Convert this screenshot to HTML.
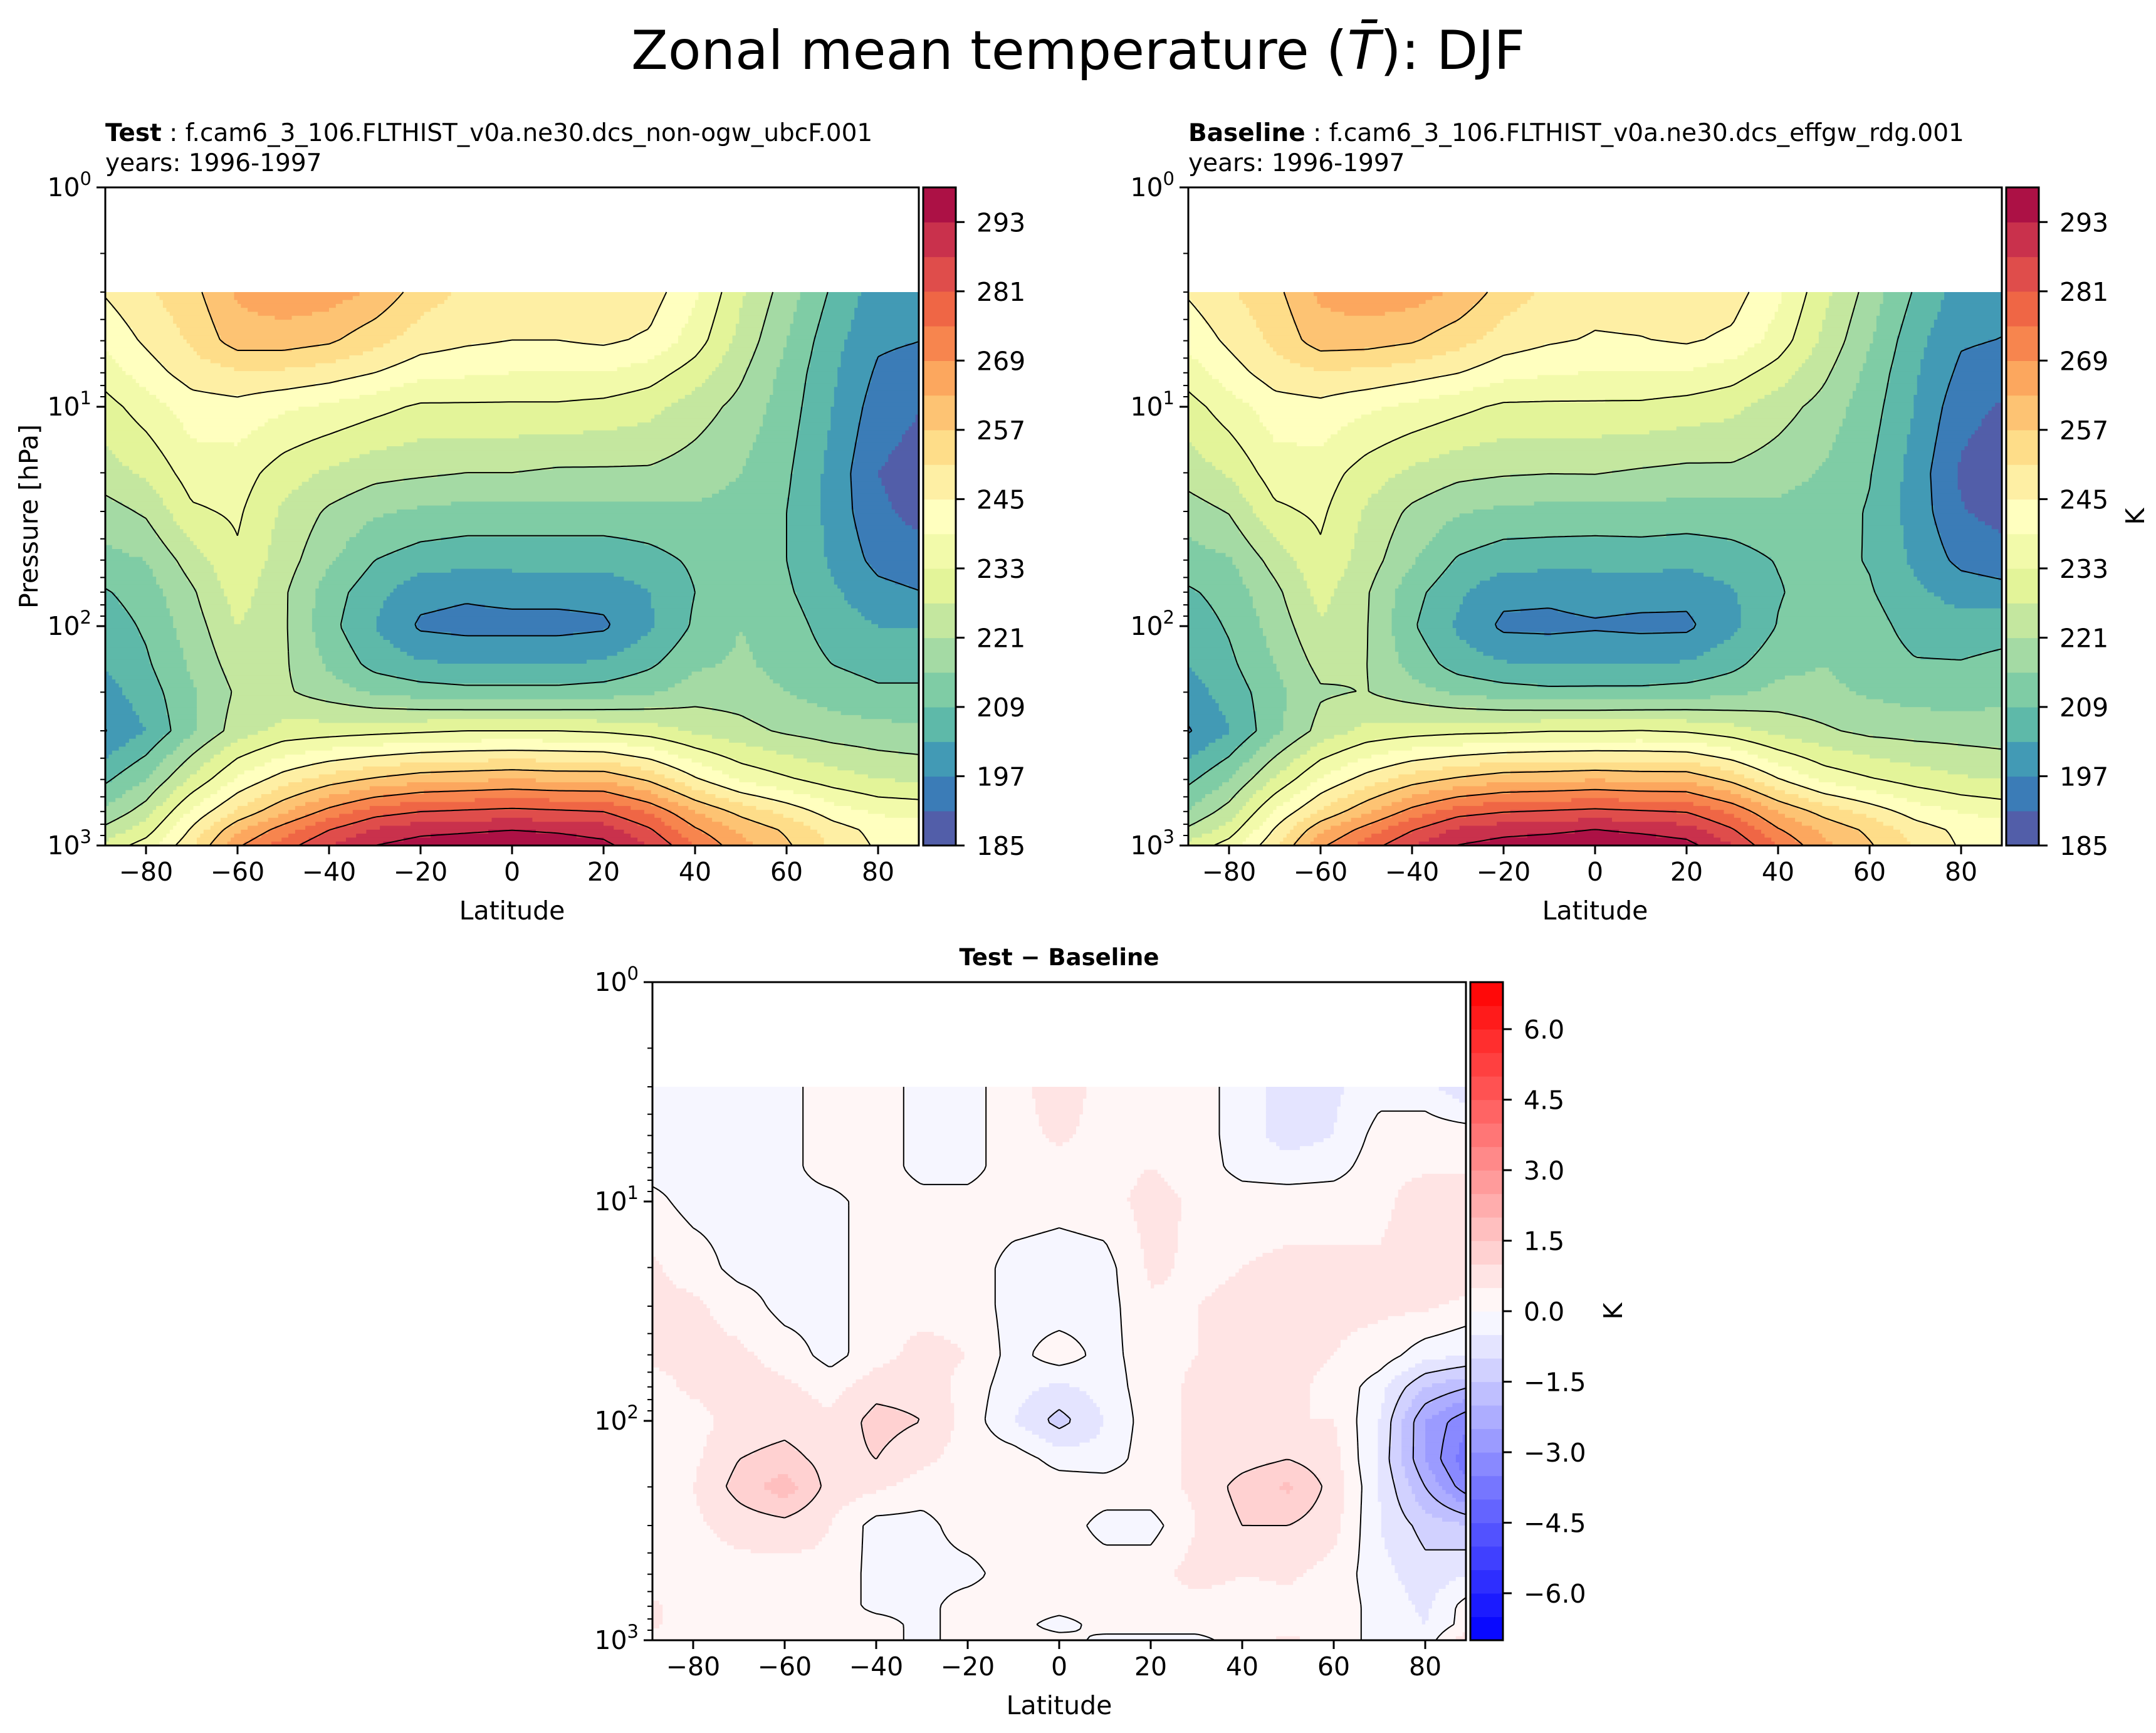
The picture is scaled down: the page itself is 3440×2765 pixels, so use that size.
<!DOCTYPE html>
<html><head><meta charset="utf-8">
<style>
html,body{margin:0;padding:0;background:#fff;}
svg{display:block;font-family:"DejaVu Sans","Liberation Sans",sans-serif;}
</style></head>
<body>
<svg id="fig" width="3440" height="2765" viewBox="0 0 3440 2765" xmlns="http://www.w3.org/2000/svg">
<text x="1720" y="110" font-size="86" text-anchor="middle">Zonal mean temperature (<tspan font-style="italic">T&#772;</tspan>): DJF</text>
<text x="168" y="225" font-size="39"><tspan font-weight="bold">Test</tspan> : f.cam6_3_106.FLTHIST_v0a.ne30.dcs_non-ogw_ubcF.001</text>
<text x="168" y="273" font-size="39">years: 1996-1997</text>
<text x="1896" y="225" font-size="39"><tspan font-weight="bold">Baseline</tspan> : f.cam6_3_106.FLTHIST_v0a.ne30.dcs_effgw_rdg.001</text>
<text x="1896" y="273" font-size="39">years: 1996-1997</text>
<text x="1690" y="1540" font-size="37" font-weight="bold" text-anchor="middle">Test − Baseline</text>
<g id="layer"></g>
</svg>
<script>
const lats=[-90,-80,-70,-60,-50,-40,-30,-20,-10,0,10,20,30,40,50,60,70,80,90];
const levs=[3,5,7,10,20,30,50,70,100,150,200,300,500,700,850,1000];
const testT=[
[245,250,255,264,267,266,262,254,250,248,248,249,248,240,228,218,208,200,198],
[240,246,252,260,260,258,253,248,246,245,245,246,244,236,225,215,205,198,197],
[235,242,248,250,250,248,245,241,240,239,239,239,236,230,222,213,204,196,194],
[230,236,242,243,240,238,235,232,232,232,232,231,229,224,219,212,203,194,191],
[224,228,236,236,230,226,223,222,221,221,220,220,220,218,215,210,201,191,188],
[218,222,232,234,226,220,216,214,213,213,213,213,213,214,213,209,201,192,189],
[213,215,224,232,224,216,209,206,205,205,205,205,207,210,212,209,202,195,193],
[208,212,220,230,222,212,205,199,198,199,199,199,203,209,213,210,204,199,197],
[205,210,218,227,222,211,203,196,195,195,195,196,202,210,215,212,206,203,203],
[203,208,216,224,222,214,207,204,203,203,203,204,208,214,216,213,209,207,207],
[200,206,214,222,222,218,214,212,211,211,211,212,214,218,218,215,212,210,210],
[196,203,214,224,229,230,231,232,233,233,233,232,230,226,223,220,218,217,216],
[207,215,228,240,248,254,258,261,262,263,262,262,256,246,238,234,230,227,226],
[215,224,240,252,262,271,278,281,282,283,282,281,274,263,255,249,242,238,237],
[222,230,246,262,272,281,288,291,292,293,292,290,282,270,262,256,248,243,242],
[228,236,250,268,278,287,293,296,297,298,297,295,287,275,265,258,250,244,244]];
const diffT=[
[-0.2,-0.2,-0.2,-0.2,0.3,0.3,-0.2,-0.2,0.3,0.8,0.3,0.2,0.3,-0.3,-0.7,-0.6,-0.2,-0.3,-1.0],
[-0.2,-0.2,-0.2,-0.2,0.3,0.3,-0.2,-0.2,0.3,0.6,0.3,0.3,0.3,-0.3,-0.7,-0.5,0.2,0.3,0.3],
[-0.2,-0.2,-0.2,-0.2,0.3,0.3,-0.2,-0.2,0.3,0.3,0.3,0.5,0.3,-0.2,-0.3,-0.2,0.3,0.4,0.4],
[0.2,-0.2,-0.2,-0.2,-0.2,0.3,0.2,0.2,0.3,0.2,0.3,0.7,0.4,0.3,0.3,0.3,0.3,0.9,1.0],
[0.6,0.3,-0.2,-0.2,-0.2,0.3,0.3,0.3,-0.2,-0.3,-0.2,0.6,0.4,0.5,0.6,0.6,0.6,0.9,1.0],
[0.6,0.6,0.3,-0.2,-0.2,0.3,0.3,0.3,-0.2,-0.3,-0.2,0.4,0.5,0.6,0.6,0.6,0.6,0.6,0.3],
[0.6,0.6,0.6,0.3,-0.2,0.3,0.7,0.5,-0.2,0.3,-0.2,0.3,0.5,0.6,0.6,0.5,0.3,-0.3,-0.5],
[0.3,0.6,0.7,0.6,0.3,0.8,0.8,0.3,-0.3,-0.6,-0.3,0.3,0.6,0.6,0.6,0.4,-0.3,-1.5,-2.0],
[0.3,0.3,0.7,0.8,0.6,1.2,1.0,0.3,-0.5,-1.2,-0.5,0.3,0.6,0.6,0.5,0.5,-0.5,-2.5,-3.5],
[0.3,0.4,1.0,1.2,0.8,1.0,0.6,0.3,0.3,-0.2,-0.3,0.3,0.6,0.8,1.0,0.7,-0.6,-2.5,-4.0],
[0.3,0.5,1.2,1.8,0.8,0.6,0.3,0.3,0.3,0.3,0.3,0.3,0.6,1.2,1.6,0.8,-0.5,-2.0,-3.5],
[0.3,0.4,0.7,0.8,0.5,-0.2,-0.2,0.3,0.3,0.3,-0.2,-0.2,0.5,1.0,1.0,0.7,-0.5,-1.2,-1.5],
[0.3,0.3,0.3,0.3,0.4,-0.2,-0.2,-0.2,0.3,0.3,0.3,0.3,0.7,0.5,0.6,0.3,-0.3,-0.8,-0.5],
[0.6,0.3,0.5,0.3,0.4,-0.2,-0.2,0.3,0.3,0.3,0.3,0.3,0.3,0.3,0.3,0.3,-0.2,-0.6,0.3],
[0.6,0.3,0.3,0.3,0.3,0.3,-0.2,0.3,0.3,-0.3,0.3,0.3,0.3,0.3,0.3,0.3,-0.2,-0.5,0.3],
[0.3,0.3,0.3,0.3,0.3,0.3,-0.2,0.3,0.3,0.3,-0.2,-0.2,-0.2,0.3,0.6,0.3,-0.2,-0.3,1.0]];
const baseT=testT.map((r,j)=>r.map((v,i)=>v-diffT[j][i]));
const xTicks=[-80,-60,-40,-20,0,20,40,60,80];
const tempTicks=[185,197,209,221,233,245,257,269,281,293];
const diffTicks=[-6.0,-4.5,-3.0,-1.5,0.0,1.5,3.0,4.5,6.0];

const NS="http://www.w3.org/2000/svg";
const layer=document.getElementById('layer');
function el(tag,attrs,parent){const e=document.createElementNS(NS,tag);for(const k in attrs)e.setAttribute(k,attrs[k]);(parent||layer).appendChild(e);return e;}
const XMIN=-88.9,XMAX=88.9;
function sampler(grid){
  const lp=levs.map(Math.log10);
  return function(lat,p){
    const l=Math.log10(p);
    let i=Math.min(lats.length-2,Math.max(0,Math.floor((lat+90)/10)));
    let fx=(lat-lats[i])/10;
    let j=0;while(j<levs.length-2&&l>lp[j+1])j++;
    let fy=(l-lp[j])/(lp[j+1]-lp[j]);fy=Math.max(0,Math.min(1,fy));
    const a=grid[j][i],b=grid[j][i+1],c=grid[j+1][i],d=grid[j+1][i+1];
    return a*(1-fx)*(1-fy)+b*fx*(1-fy)+c*(1-fx)*fy+d*fx*fy;
  };
}
const spec=['#5e4fa2','#3288bd','#66c2a5','#abdda4','#e6f598','#ffffbf','#fee08b','#fdae61','#f46d43','#d53e4f','#9e0142'];
function hex(h){return[parseInt(h.substr(1,2),16),parseInt(h.substr(3,2),16),parseInt(h.substr(5,2),16)];}
function specR(t){t=Math.max(0,Math.min(1,t));const s=t*10;const i=Math.min(9,Math.floor(s));const f=s-i;const a=hex(spec[i]),b=hex(spec[i+1]);return 'rgb('+a.map((v,k)=>Math.round(v+(b[k]-v)*f)).join(',')+')';}
function bwr(t){t=Math.max(0,Math.min(1,t));let r,g,b;if(t<0.5){r=g=Math.round(255*t*2);b=255;}else{r=255;g=b=Math.round(255*(1-t)*2);}return 'rgb('+r+','+g+','+b+')';}

function panel(name,x0,y0,w,h,grid,lv0,step,nb,cmap,lineLvls,cbX,cbTicks,tickFmt,showYLabel,kLabel){
  const g=el('g',{});
  
  
  const f=sampler(grid);
  const X=lat=>x0+(lat-XMIN)/(XMAX-XMIN)*w;
  const Y=p=>y0+h*Math.log10(p)/3;
  const nx=240,ny=140;
  const lt=Math.log10(3);
  const vals=[];
  for(let j=0;j<=ny;j++){const row=[];const p=Math.pow(10,lt+(3-lt)*j/ny);for(let i=0;i<=nx;i++){row.push(f(XMIN+(XMAX-XMIN)*i/nx,p));}vals.push(row);}
  const band=v=>Math.max(0,Math.min(nb-1,Math.floor((v-lv0)/step)));
  const fill=el('g',{},g);
  
  
  const cw=w/nx,yTop=Y(3),ch=(y0+h-yTop)/ny;
  for(let j=0;j<ny;j++){
    let start=0,cur=band((vals[j][0]+vals[j+1][0]+vals[j][1]+vals[j+1][1])/4);
    for(let i=1;i<=nx;i++){
      let b=i<nx?band((vals[j][i]+vals[j+1][i]+vals[j][i+1]+vals[j+1][i+1])/4):-1;
      if(b!==cur){
        el('rect',{x:(x0+start*cw).toFixed(1),y:(yTop+j*ch).toFixed(1),width:((i-start)*cw+0.8).toFixed(1),height:(ch+0.8).toFixed(1),fill:cmap((cur+0.5)/nb)},fill);
        start=i;cur=b;
      }
    }
  }
  // contour lines (marching squares)
  const lines=el('g',{fill:'none',stroke:'#000','stroke-width':2},g);
  
  
  const px=i=>x0+i*cw,py=j=>yTop+j*ch;
  lineLvls.forEach(L=>{
    let d='';
    for(let j=0;j<ny;j++)for(let i=0;i<nx;i++){
      const a=vals[j][i],b=vals[j][i+1],c=vals[j+1][i+1],e=vals[j+1][i];
      const pts=[];
      if((a-L)*(b-L)<0){const t=(L-a)/(b-a);pts.push([px(i+t),py(j)]);}
      if((b-L)*(c-L)<0){const t=(L-b)/(c-b);pts.push([px(i+1),py(j+t)]);}
      if((c-L)*(e-L)<0){const t=(L-c)/(e-c);pts.push([px(i+1-t),py(j+1)]);}
      if((e-L)*(a-L)<0){const t=(L-e)/(a-e);pts.push([px(i),py(j+1-t)]);}
      for(let k=0;k+1<pts.length;k+=2)d+='M'+pts[k][0].toFixed(1)+' '+pts[k][1].toFixed(1)+'L'+pts[k+1][0].toFixed(1)+' '+pts[k+1][1].toFixed(1);
    }
    if(d){const pth=el('path',{d:d},lines);if(L<0)pth.setAttribute('stroke-dasharray','8 5');
      
      }
  });
  // frame
  const fr=el('rect',{x:x0,y:y0,width:w,height:h,fill:'none',stroke:'#000','stroke-width':3},g);
  
  
  // x ticks
  xTicks.forEach(t=>{
    el('line',{x1:X(t),x2:X(t),y1:y0+h,y2:y0+h+14,stroke:'#000','stroke-width':3},g);
    const tx=el('text',{x:X(t),y:y0+h+56,'font-size':41,'text-anchor':'middle'},g);
    tx.textContent=(t<0?'−':'')+Math.abs(t);
    
    
  });
  const xl=el('text',{x:x0+w/2,y:y0+h+118,'font-size':41,'text-anchor':'middle'},g);
  xl.textContent='Latitude';
  
  
  // y ticks
  for(let e=0;e<=3;e++){
    const yy=Y(Math.pow(10,e));
    el('line',{x1:x0-14,x2:x0,y1:yy,y2:yy,stroke:'#000','stroke-width':3},g);
    const tx=el('text',{x:x0-22,y:yy+14,'font-size':41,'text-anchor':'end'},g);
    tx.innerHTML='10<tspan dy="-18" font-size="29">'+e+'</tspan>';
    
    
    if(e<3)for(let m=2;m<=9;m++){const ym=Y(m*Math.pow(10,e));el('line',{x1:x0-8,x2:x0,y1:ym,y2:ym,stroke:'#000','stroke-width':2},g);}
  }
  if(showYLabel){const yl=el('text',{x:0,y:0,'font-size':41,'text-anchor':'middle',transform:'translate(60,'+(y0+h/2)+') rotate(-90)'},g);
    yl.textContent='Pressure [hPa]';
    
    }
  // colorbar
  const cb=el('g',{},g);
  
  
  const cw2=52,bh=h/nb;
  for(let k=0;k<nb;k++)el('rect',{x:cbX,y:(y0+h-(k+1)*bh).toFixed(1),width:cw2,height:(bh+0.6).toFixed(1),fill:cmap((k+0.5)/nb)},cb);
  el('rect',{x:cbX,y:y0,width:cw2,height:h,fill:'none',stroke:'#000','stroke-width':3},cb);
  cbTicks.forEach(t=>{
    const yy=y0+h-(t-lv0)/(step*nb)*h;
    el('line',{x1:cbX+cw2,x2:cbX+cw2+14,y1:yy,y2:yy,stroke:'#000','stroke-width':3},cb);
    const tx=el('text',{x:cbX+cw2+33,y:yy+15,'font-size':41},cb);
    tx.textContent=tickFmt(t);
    
    
  });
  if(kLabel){const kl=el('text',{x:0,y:0,'font-size':41,'text-anchor':'middle',transform:'translate('+(cbX+cw2+kLabel)+','+(y0+h/2)+') rotate(-90)'},cb);
    kl.textContent='K';
    
    }
}
const tLines=[185,197,209,221,233,245,257,269,281,293];
const dLines=[-6,-5,-4,-3,-2,-1,0,1,2,3,4,5,6];
const fmtT=t=>String(t);
const fmtD=t=>(t<0?'−':'')+Math.abs(t).toFixed(1);
panel('test-panel',168,299,1298,1050,testT,185,6,19,specR,tLines,1473,tempTicks,fmtT,true,0);
panel('baseline-panel',1896,299,1298,1050,baseT,185,6,19,specR,tLines,3201,tempTicks,fmtT,false,168);
panel('difference-panel',1041,1567,1298,1050,diffT,-7,0.5,28,bwr,dLines,2346,diffTicks,fmtD,false,190);
</script>
</body></html>
